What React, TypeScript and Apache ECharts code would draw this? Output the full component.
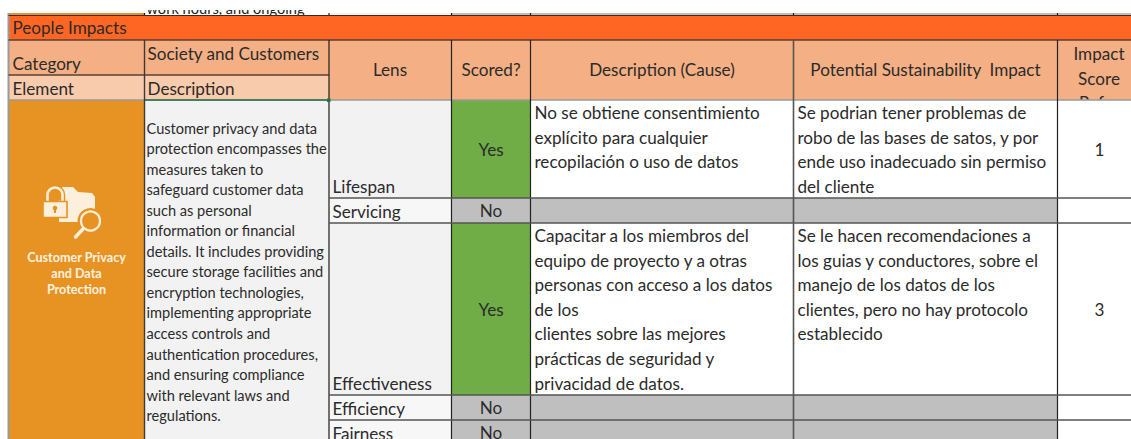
import React, { useEffect, useRef } from "react";
import * as echarts from "echarts";

const sectionTitle = "People Impacts";
const categoryLabels = ["Category", "Society and Customers"];
const elementLabels = ["Element", "Description"];
const headerLabels = ["Lens", "Scored?", "Description (Cause)", "Potential Sustainability  Impact"];
const impactHeaderLines = ["Impact", "Score", "Refer"];
const clippedAbove = "work hours, and ongoing";
const elementNameLines = ["Customer Privacy", "and Data", "Protection"];
const elementDescriptionLines = [
  "Customer privacy and data",
  "protection encompasses the",
  "measures taken to",
  "safeguard customer data",
  "such as personal",
  "information or financial",
  "details. It includes providing",
  "secure storage facilities and",
  "encryption technologies,",
  "implementing appropriate",
  "access controls and",
  "authentication procedures,",
  "and ensuring compliance",
  "with relevant laws and",
  "regulations.",
];
const lensNames = ["Lifespan", "Servicing", "Effectiveness", "Efficiency", "Fairness"];
const scoredValues = ["Yes", "No", "Yes", "No", "No"];
const impactScores = ["1", "", "3", "", ""];
const causeLines = [
  ["No se obtiene consentimiento", "explícito para cualquier", "recopilación o uso de datos"],
  [],
  [
    "Capacitar a los miembros del",
    "equipo de proyecto y a otras",
    "personas con acceso a los datos",
    "de los",
    "clientes sobre las mejores",
    "prácticas de seguridad y",
    "privacidad de datos.",
  ],
  [],
  [],
];
const impactLines = [
  ["Se podrian tener problemas de", "robo de las bases de satos, y por", "ende uso inadecuado sin permiso", "del cliente"],
  [],
  ["Se le hacen recomendaciones a", "los guias y conductores, sobre el", "manejo de los datos de los", "clientes, pero no hay protocolo", "establecido"],
  [],
  [],
];

// layout (pixel grid of the sheet)
const colEdges = [8.5, 144.5, 329, 451.5, 530.5, 793.5, 1057.5, 1131];
const rowEdges = [100, 198, 223, 395, 420, 445];

const FONT = "Lato, sans-serif";
const INK = "#2b2b2b";
const BIG = 17.1;
const SMALL = 14.6;
const C = {
  section: "#FF6623",
  header: "#F4B084",
  element: "#F8CBAD",
  orange: "#E79324",
  light: "#F2F2F2",
  green: "#70AD47",
  grey: "#BFBFBF",
  white: "#FFFFFF",
};

type Cell = [number, number, number, number, string];
type Txt = { x: number; y: number; t: string; size: number; align?: string; fill?: string; weight?: string };
type Ln = [number, number, number, number, string, number];

const [x0, x1, x2, x3, x4, x5, x6, x7] = colEdges;

const headerCells: Cell[] = [
  [x0, 13, x7, 15, C.grey],
  [x0, 13, x1, 15, C.orange],
  [x1, 0, x2, 15, C.white],
  [x2, 13, x3, 15, C.light],
];
const bandCells: Cell[] = [
  [x0, 15, x7, 40, C.section],
  [x0, 40, x2, 75, C.header],
  [x0, 75, x2, 100, C.element],
  [x2, 40, x7, 100, C.header],
];

const bodyCells: Cell[] = [[x0, 100, x1, 439, C.orange], [x1, 100, x2, 439, C.light]];
lensNames.forEach((_, i) => {
  const a = rowEdges[i];
  const b = Math.min(rowEdges[i + 1], 439);
  const yes = scoredValues[i] === "Yes";
  bodyCells.push([x2, a, x3, b, yes ? C.light : "#F7F7F7"]);
  bodyCells.push([x3, a, x4, b, yes ? C.green : C.grey]);
  bodyCells.push([x4, a, x5, b, yes ? C.white : C.grey]);
  bodyCells.push([x5, a, x6, b, yes ? C.white : C.grey]);
  bodyCells.push([x6, a, x7, b, C.white]);
});

const underTexts: Txt[] = [
  { x: 146.5, y: 8.5, t: clippedAbove, size: SMALL, fill: "#222" },
];
const underBody: Txt[] = [{ x: x6 + 41.5, y: 102.5, t: impactHeaderLines[2], size: BIG, align: "center" }];

const texts: Txt[] = [
  { x: 12.5, y: 27.5, t: sectionTitle, size: BIG },
  { x: 12.5, y: 63.5, t: categoryLabels[0], size: BIG },
  { x: 147.5, y: 53.5, t: categoryLabels[1], size: BIG },
  { x: 12.5, y: 88, t: elementLabels[0], size: BIG },
  { x: 147.5, y: 88, t: elementLabels[1], size: BIG },
  { x: 390, y: 69.5, t: headerLabels[0], size: BIG, align: "center" },
  { x: 491, y: 69.5, t: headerLabels[1], size: BIG, align: "center" },
  { x: 662, y: 69.5, t: headerLabels[2], size: BIG, align: "center" },
  { x: 925.5, y: 69.5, t: headerLabels[3], size: BIG, align: "center" },
  { x: x6 + 41.5, y: 53.5, t: impactHeaderLines[0], size: BIG, align: "center" },
  { x: x6 + 41.5, y: 78, t: impactHeaderLines[1], size: BIG, align: "center" },
];
elementDescriptionLines.forEach((t, i) => texts.push({ x: 146.5, y: 128 + i * 20.55, t, size: SMALL }));
elementNameLines.forEach((t, i) =>
  texts.push({ x: 76.5, y: 257.5 + i * 15.8, t, size: 12.6, align: "center", fill: "#FDF1E0", weight: "bold" })
);
lensNames.forEach((t, i) => {
  const a = rowEdges[i];
  const b = rowEdges[i + 1];
  const yes = scoredValues[i] === "Yes";
  texts.push({ x: 332.5, y: b - 12, t, size: BIG });
  texts.push({ x: 491, y: (a + b) / 2 + (yes ? 0.5 : 0), t: scoredValues[i], size: BIG, align: "center" });
  if (impactScores[i]) texts.push({ x: x6 + 42, y: (a + b) / 2 + 0.5, t: impactScores[i], size: BIG, align: "center" });
  causeLines[i].forEach((s, k) => texts.push({ x: 534.5, y: a + 12.5 + k * 24.6, t: s, size: BIG }));
  impactLines[i].forEach((s, k) => texts.push({ x: 797.5, y: a + 12.5 + k * 24.6, t: s, size: BIG }));
});

const DARK = "#1d1d1d";
const MID = "#555555";
const SOFT = "#9a9a9a";
const rules: Ln[] = [
  [x0, 13, x0, 439, SOFT, 2],
  [x1, 13, x1, 15, DARK, 1.2],
  [x2, 13, x2, 15, DARK, 1.2],
  [x3, 13, x3, 15, DARK, 1.2],
  [x4, 13, x4, 15, DARK, 1.2],
  [x5, 13, x5, 15, DARK, 1.2],
  [x6, 13, x6, 15, DARK, 1.2],
  [x0, 15.5, x7, 15.5, "#3a2a20", 1.2],
  [x0, 40, x7, 40, "#5a4034", 1.4],
  [x0, 75, x2, 75, "#5a4034", 1.4],
  [x0, 100, x7, 100, SOFT, 1.6],
  [x1, 100, x2, 100, "#217346", 1.4],
  [x1, 40, x1, 439, "#3a3a3a", 1.4],
  [x2, 40, x2, 439, "#2a2a2a", 1.3],
  [x3, 40, x3, 439, "#222", 1.2],
  [x4, 40, x4, 439, "#222", 1.2],
  [x5, 40, x5, 439, "#555", 1.6],
  [x6, 40, x6, 439, "#222", 1.2],
];
rowEdges.slice(1, 5).forEach((y) => {
  rules.push([x2, y, x7, y, MID, 1.6]);
});

const shacklePath = "M4 17 L4 9 A7.5 7.5 0 0 1 19 9 L19 17";

function cellSeries(cells: Cell[]) {
  return {
    type: "custom",
    coordinateSystem: "cartesian2d",
    silent: true,
    clip: false,
    data: cells.map((c) => [c[0], c[1], c[2], c[3]]),
    encode: { x: [0, 2], y: [1, 3] },
    renderItem: (params: any, api: any) => {
      const c = cells[params.dataIndex];
      const a = api.coord([c[0], c[1]]);
      const b = api.coord([c[2], c[3]]);
      return { type: "rect", shape: { x: a[0], y: a[1], width: b[0] - a[0], height: b[1] - a[1] }, style: { fill: c[4] } };
    },
  };
}

function textSeries(list: Txt[]) {
  return {
    type: "custom",
    coordinateSystem: "cartesian2d",
    silent: true,
    clip: false,
    data: list.map((t) => [t.x, t.y]),
    encode: { x: 0, y: 1 },
    renderItem: (params: any, api: any) => {
      const t = list[params.dataIndex];
      const p = api.coord([t.x, t.y]);
      return {
        type: "text",
        x: p[0],
        y: p[1],
        style: {
          text: t.t,
          fill: t.fill || INK,
          font: `${t.weight || "normal"} ${t.size}px ${FONT}`,
          textAlign: t.align || "left",
          textVerticalAlign: "middle",
        },
      };
    },
  };
}

function ruleSeries(list: Ln[]) {
  return {
    type: "custom",
    coordinateSystem: "cartesian2d",
    silent: true,
    clip: false,
    data: list.map((l) => [l[0], l[1], l[2], l[3]]),
    encode: { x: [0, 2], y: [1, 3] },
    renderItem: (params: any, api: any) => {
      const l = list[params.dataIndex];
      const a = api.coord([l[0], l[1]]);
      const b = api.coord([l[2], l[3]]);
      return { type: "line", shape: { x1: a[0], y1: a[1], x2: b[0], y2: b[1] }, style: { stroke: l[4], lineWidth: l[5] } };
    },
  };
}

export default function App() {
  const ref = useRef<HTMLDivElement>(null);
  useEffect(() => {
    if (!ref.current) return;
    echarts.graphic.registerShape("shackle", echarts.graphic.extendPath(shacklePath as any, {}) as any);
    const chart = echarts.init(ref.current, undefined, { renderer: "svg", width: 1131, height: 439 });
    const ICON = "#FCEFDC";
    const Z = 100;
    chart.setOption({
      animation: false,
      backgroundColor: "#FFFFFF",
      grid: { left: 0, right: 0, top: 0, bottom: 0 },
      xAxis: { type: "value", min: 0, max: 1131, show: false },
      yAxis: { type: "value", min: 0, max: 439, inverse: true, show: false },
      series: [
        cellSeries(headerCells),
        textSeries(underTexts),
        cellSeries(bandCells),
        textSeries(underBody),
        cellSeries(bodyCells),
        ruleSeries(rules),
        textSeries(texts),
      ],
      graphic: [
        { type: "rect", silent: true, z: Z, shape: { x: 0, y: 0, width: 1131, height: 10 }, style: { fill: "#FFFFFF" } },
        { type: "polygon", silent: true, z: Z, shape: { points: [[62, 187], [73, 187], [78, 192], [92, 193], [95, 197], [95, 222], [59, 222], [59, 200], [62, 200]] }, style: { fill: ICON } },
        { type: "shackle", silent: true, z: Z + 1, x: 43.5, y: 186, style: { fill: "none", stroke: C.orange, lineWidth: 5.5 } },
        { type: "shackle", silent: true, z: Z + 2, x: 43.5, y: 186, style: { fill: "none", stroke: ICON, lineWidth: 2.6 } },
        { type: "rect", silent: true, z: Z + 3, shape: { x: 43, y: 201.5, width: 24, height: 16 }, style: { fill: ICON, stroke: C.orange, lineWidth: 1.6 } },
        { type: "circle", silent: true, z: Z + 4, shape: { cx: 55, cy: 208, r: 2.3 }, style: { fill: C.orange } },
        { type: "rect", silent: true, z: Z + 4, shape: { x: 54, y: 209, width: 2, height: 4 }, style: { fill: C.orange } },
        { type: "circle", silent: true, z: Z + 5, shape: { cx: 90.5, cy: 221, r: 13 }, style: { fill: C.orange } },
        { type: "line", silent: true, z: Z + 5, shape: { x1: 82, y1: 230, x2: 75.5, y2: 237 }, style: { stroke: C.orange, lineWidth: 7 } },
        { type: "circle", silent: true, z: Z + 6, shape: { cx: 90.5, cy: 221, r: 9.5 }, style: { fill: C.orange, stroke: ICON, lineWidth: 2.2 } },
        { type: "line", silent: true, z: Z + 6, shape: { x1: 83, y1: 229, x2: 75.5, y2: 237 }, style: { stroke: ICON, lineWidth: 3.4, lineCap: "round" } },
        { type: "rect", silent: true, z: Z, shape: { x: x2 - 2, y: 98.5, width: 3.5, height: 3.5 }, style: { fill: "#217346" } },
      ],
    });
    return () => chart.dispose();
  }, []);
  return <div ref={ref} style={{ position: "absolute", left: 0, top: 0, width: 1131, height: 439 }} />;
}
